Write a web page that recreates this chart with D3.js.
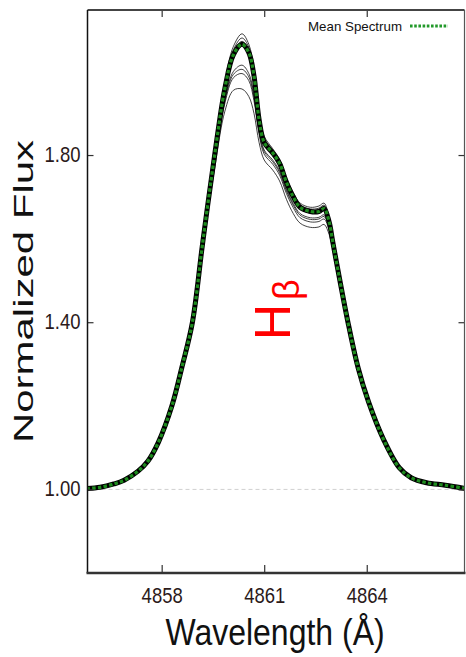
<!DOCTYPE html>
<html lang="en">

<head>
  <meta charset="utf-8">
  <title>H-beta profile</title>
  <script src="https://d3js.org/d3.v7.min.js"></script>
  <style>
    body { margin: 0; background: white; }
    svg { display: block; font-family: 'Liberation Sans', Arial, sans-serif; }
    .tick text { fill: #2b1a1a; font-size: 18.5px; }
    .tick line { stroke: #333; stroke-width: 1.2; }
  </style>
</head>

<body>
  <div id="chart"></div>
  <script>
    var w = 466;
    var h = 657;
    var plotLeft = 87.5, plotRight = 464.5, plotTop = 10, plotBottom = 573;

    // wavelength grid (A) and mean spectrum
    var wavelength = [4855.8, 4856.2, 4856.6, 4856.9, 4857.3, 4857.6, 4857.9, 4858.3, 4858.6, 4858.9,
      4859.2, 4859.55, 4859.85, 4860.1, 4860.35, 4860.55, 4860.7, 4860.85, 4861.0, 4861.25,
      4861.45, 4861.65, 4861.85, 4862.05, 4862.35, 4862.6, 4862.75, 4862.9, 4863.0, 4863.1,
      4863.45, 4863.75, 4864.05, 4864.5, 4864.95, 4865.3, 4865.75, 4866.3, 4866.9];
    var meanFlux = [1.002, 1.005, 1.013, 1.022, 1.043, 1.068, 1.112, 1.200, 1.295, 1.400,
      1.590, 1.800, 1.960, 2.040, 2.065, 2.045, 1.990, 1.885, 1.830, 1.805,
      1.780, 1.735, 1.700, 1.675, 1.665, 1.665, 1.672, 1.640, 1.595, 1.550,
      1.400, 1.290, 1.210, 1.118, 1.052, 1.028, 1.016, 1.010, 1.002];

    // individual spectra only differ in the line core (grid points 10..29)
    var coreFrom = 10, coreTo = 30;
    var individualCores = [
      [1.595, 1.810, 1.975, 2.060, 2.090, 2.065, 2.005, 1.900, 1.845, 1.815, 1.790, 1.745, 1.710, 1.685, 1.675, 1.678, 1.685, 1.650, 1.600, 1.552],
      [1.593, 1.806, 1.970, 2.052, 2.080, 2.058, 2.000, 1.895, 1.840, 1.812, 1.786, 1.742, 1.706, 1.681, 1.671, 1.673, 1.680, 1.647, 1.598, 1.551],
      [1.591, 1.803, 1.966, 2.046, 2.072, 2.052, 1.995, 1.890, 1.836, 1.809, 1.783, 1.738, 1.703, 1.678, 1.668, 1.669, 1.676, 1.644, 1.597, 1.551],
      [1.589, 1.798, 1.957, 2.036, 2.060, 2.040, 1.985, 1.880, 1.826, 1.801, 1.776, 1.731, 1.696, 1.671, 1.661, 1.662, 1.669, 1.638, 1.594, 1.550],
      [1.585, 1.785, 1.935, 2.000, 2.015, 1.995, 1.945, 1.860, 1.812, 1.788, 1.762, 1.718, 1.684, 1.660, 1.650, 1.651, 1.657, 1.628, 1.588, 1.548],
      [1.584, 1.782, 1.930, 1.993, 2.005, 1.987, 1.938, 1.855, 1.808, 1.784, 1.758, 1.714, 1.680, 1.656, 1.646, 1.647, 1.653, 1.625, 1.586, 1.547],
      [1.582, 1.778, 1.924, 1.985, 1.995, 1.978, 1.930, 1.850, 1.802, 1.778, 1.752, 1.708, 1.674, 1.650, 1.640, 1.641, 1.647, 1.620, 1.583, 1.546],
      [1.578, 1.768, 1.905, 1.955, 1.958, 1.940, 1.900, 1.830, 1.788, 1.764, 1.738, 1.694, 1.660, 1.637, 1.627, 1.628, 1.634, 1.610, 1.578, 1.545]
    ];

    var xTicks = [4858, 4861, 4864];
    var yTicks = [1.00, 1.40, 1.80];
    var xDomain = [4855.83, 4866.86];
    var yDomain = [0.8, 2.147];

    var x = d3.scaleLinear().domain(xDomain).range([plotLeft, plotRight]);
    var y = d3.scaleLinear().domain(yDomain).range([plotBottom, plotTop]);

    var svg = d3.select('#chart').append('svg')
      .attr('width', w)
      .attr('height', h);

    svg.append('clipPath').attr('id', 'plot')
      .append('rect')
      .attr('x', plotLeft).attr('y', plotTop)
      .attr('width', plotRight - plotLeft).attr('height', plotBottom - plotTop);

    // continuum level
    svg.append('line')
      .attr('x1', plotLeft).attr('x2', plotRight)
      .attr('y1', y(1)).attr('y2', y(1))
      .style('stroke', '#d0d0d0')
      .style('stroke-width', 1)
      .style('stroke-dasharray', '4,3');

    var line = d3.line()
      .x(function (d) { return x(d[0]); })
      .y(function (d) { return y(d[1]); })
      .curve(d3.curveCatmullRom.alpha(0.5));

    var spectra = individualCores.map(function (core) {
      var flux = meanFlux.slice(0, coreFrom).concat(core, meanFlux.slice(coreTo));
      return wavelength.map(function (wl, i) { return [wl, flux[i]]; });
    });
    var meanData = wavelength.map(function (wl, i) { return [wl, meanFlux[i]]; });

    var g = svg.append('g').attr('clip-path', 'url(#plot)');

    g.selectAll('path.spec')
      .data(spectra)
      .enter().append('path')
      .attr('class', 'spec')
      .attr('d', line)
      .style('fill', 'none')
      .style('stroke', '#111')
      .style('stroke-width', 0.8);

    g.append('path')
      .attr('d', line(meanData))
      .style('fill', 'none')
      .style('stroke', '#000')
      .style('stroke-width', 5);

    g.append('path')
      .attr('d', line(meanData))
      .style('fill', 'none')
      .style('stroke', '#1e8c1e')
      .style('stroke-width', 3.2)
      .style('stroke-dasharray', '3.5,2.2');

    // axes with inward ticks
    var xAxis = svg.append('g')
      .attr('transform', 'translate(0,' + plotBottom + ')')
      .call(d3.axisBottom(x).tickValues(xTicks).tickSize(-8).tickFormat(d3.format('d')));
    xAxis.select('.domain').remove();
    xAxis.selectAll('.tick text')
      .attr('y', 0).attr('dy', 0)
      .attr('transform', 'translate(0,30) scale(1,1.15)');

    var xTop = svg.append('g')
      .attr('transform', 'translate(0,' + plotTop + ')')
      .call(d3.axisTop(x).tickValues(xTicks).tickSize(-7).tickFormat(''));
    xTop.select('.domain').remove();

    var yAxis = svg.append('g')
      .attr('transform', 'translate(' + plotLeft + ',0)')
      .call(d3.axisLeft(y).tickValues(yTicks).tickSize(-6).tickFormat(d3.format('.2f')));
    yAxis.select('.domain').remove();
    yAxis.selectAll('.tick text')
      .attr('x', 0).attr('dy', 0)
      .attr('transform', 'translate(-7,6.5) scale(1,1.15)');

    var yRight = svg.append('g')
      .attr('transform', 'translate(' + plotRight + ',0)')
      .call(d3.axisRight(y).tickValues(yTicks).tickSize(-6).tickFormat(''));
    yRight.select('.domain').remove();

    // frame
    svg.append('line').attr('x1', plotLeft).attr('x2', plotRight).attr('y1', plotTop).attr('y2', plotTop)
      .style('stroke', '#444').style('stroke-width', 1.8);
    svg.append('line').attr('x1', plotLeft).attr('x2', plotLeft).attr('y1', plotTop).attr('y2', plotBottom)
      .style('stroke', '#111').style('stroke-width', 1.5);
    svg.append('line').attr('x1', plotRight).attr('x2', plotRight).attr('y1', plotTop).attr('y2', plotBottom)
      .style('stroke', '#555').style('stroke-width', 1.2);
    svg.append('line').attr('x1', plotLeft - 1).attr('x2', plotRight + 1).attr('y1', plotBottom).attr('y2', plotBottom)
      .style('stroke', '#333').style('stroke-width', 2.5);

    // legend
    svg.append('text')
      .attr('x', 308).attr('y', 30.5)
      .attr('textLength', 94).attr('lengthAdjust', 'spacingAndGlyphs')
      .style('font-size', '13.5px')
      .style('fill', '#111')
      .text('Mean Spectrum');
    svg.append('line')
      .attr('x1', 410).attr('x2', 448).attr('y1', 26).attr('y2', 26)
      .style('stroke', '#22992a')
      .style('stroke-width', 3)
      .style('stroke-dasharray', '2.6,1.6');

    // axis titles
    svg.append('text')
      .attr('transform', 'translate(275,645) scale(1,1.13)')
      .attr('text-anchor', 'middle')
      .style('font-size', '32px')
      .style('fill', '#111')
      .text('Wavelength (\u00c5)');

    svg.append('text')
      .attr('transform', 'translate(33,291.5) rotate(-90)')
      .attr('text-anchor', 'middle')
      .attr('textLength', 303).attr('lengthAdjust', 'spacingAndGlyphs')
      .style('font-size', '28px')
      .style('fill', '#111')
      .text('Normalized Flux');

    // line label
    var label = svg.append('text')
      .attr('transform', 'translate(290,340) rotate(-90)')
      .style('fill', 'red')
      .style('font-size', '50px');
    label.append('tspan').text('H');
    label.append('tspan').attr('dx', 4).attr('dy', 9).style('font-size', '36px').text('\u03b2');
  </script>
</body>

</html>
